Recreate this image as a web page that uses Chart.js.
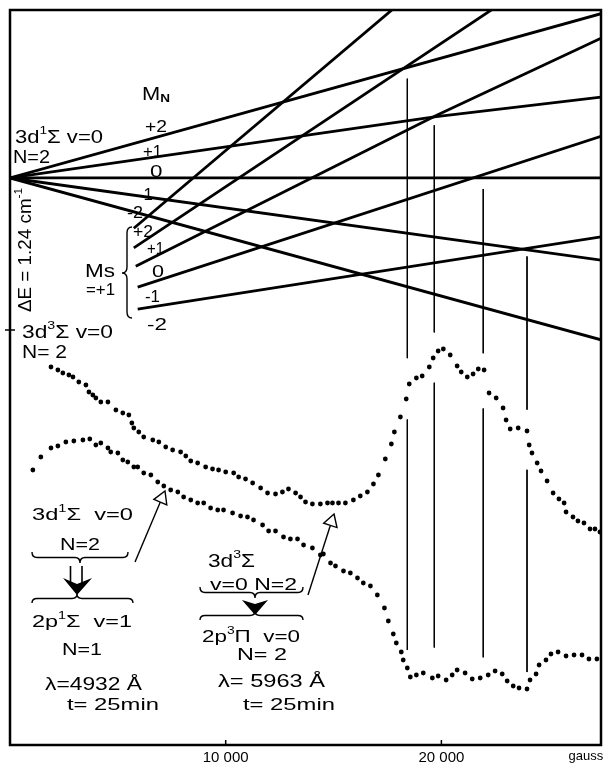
<!DOCTYPE html>
<html><head><meta charset="utf-8">
<script src="https://cdn.jsdelivr.net/npm/chart.js@4.4.0/dist/chart.umd.min.js"></script>
<style>html,body{margin:0;padding:0;background:#fff;overflow:hidden}#wrap{width:610px;height:776px}</style>
</head><body><div id="wrap"><canvas id="c"></canvas></div>
<script>
// ---------- x axis (magnetic field, gauss) ----------
const xTickValues = [10000, 20000, 26700];
const xTickLabels = ['10 000', '20 000', 'gauss'];

// ---------- Zeeman levels: [field (G), energy (cm^-1, 0 = 3d3Σ N=2)] ----------
const singlet_p2 = [[0, 1.24], [27400, 2.58]];
const singlet_p1 = [[0, 1.24], [19760, 1.74], [27400, 1.90]];
const singlet_0  = [[0, 1.24], [27400, 1.24]];
const singlet_m1 = [[0, 1.24], [27400, 0.57]];
const singlet_m2 = [[0, 1.24], [27400, -0.08]];
const triplet_p2 = [[5740, 0.83], [17770, 2.62]];
const triplet_p1 = [[5740, 0.67], [22400, 2.62]];
const triplet_0  = [[5830, 0.52], [19760, 1.75], [27400, 2.38]];
const triplet_m1 = [[5920, 0.35], [27400, 1.58]];
const triplet_m2 = [[5920, 0.17], [27400, 0.76]];

// ---------- anticrossing fields and drawn extents of the vertical markers (cm^-1 scale) ----------
const crossingFields = [18420, 19670, 21940, 23970];
const markerUpper = [[2.05, -0.23], [1.67, -0.02], [1.15, -0.19], [0.60, -0.65]];
const markerLower = [[-0.73, -2.61], [-0.43, -2.59], [-0.64, -2.67], [-1.14, -2.79]];

// ---------- recorded signals (arbitrary intensity units) ----------
const fieldA = [1900,2220,2450,2730,2920,3190,3520,3660,3840,3980,4210,4540,4910,5230,5510,5650,5740,5970,6200,6620,6900,7220,7540,7910,8150,8380,8700,9070,9390,9670,10000,10370,10600,10920,11250,11620,11940,12310,12630,12910,13240,13470,13700,14020,14390,14720,14950,15230,15550,15920,16240,16570,16850,17080,17400,17680,17820,18100,18370,18510,18840,19110,19440,19620,19850,20090,20410,20730,20920,21200,21470,21710,21980,22210,22540,22860,23000,23190,23560,23970,24070,24200,24440,24620,24900,25180,25450,25690,25780,26100,26330,26610,26890,27120,27350];
const signalA = [378,375,372,370,368,363,360,353,350,347,343,343,335,332,330,322,317,313,308,305,303,298,295,293,289,284,282,278,276,275,273,272,268,266,262,257,252,251,253,256,252,248,243,241,241,242,242,242,242,245,249,253,261,270,286,301,313,328,346,361,367,369,378,387,394,396,390,379,373,368,371,376,375,352,347,337,325,316,317,314,300,292,282,274,264,252,246,242,233,228,224,222,216,216,213];
const fieldB = [1060,1430,1900,2220,2590,2960,3380,3700,3980,4210,4540,4670,5000,5230,5460,5740,5920,6200,6530,6850,7130,7450,7780,8050,8380,8700,8980,9300,9630,9900,10320,10690,11010,11290,11710,11990,12310,12680,13000,13330,13610,14020,14390,14530,14860,15090,15460,15780,16110,16380,16710,17030,17360,17540,17770,17910,18140,18230,18420,18560,18840,19160,19580,19850,20220,20500,20730,21100,21430,21800,22170,22490,22820,23050,23330,23600,23970,24110,24390,24530,24850,25080,25410,25780,26150,26520,26840,27210];
const signalB = [275,288,297,299,303,304,305,306,300,302,297,293,292,285,283,278,278,272,270,263,259,255,253,248,245,242,242,237,235,235,232,229,228,225,220,214,214,208,206,206,200,197,190,191,182,179,174,172,167,162,159,150,137,124,111,102,93,85,77,68,70,72,67,69,65,70,75,72,66,67,70,74,71,64,59,57,56,65,71,80,85,91,93,89,90,90,86,86];

const FONT = '"Liberation Sans", "DejaVu Sans", Arial, sans-serif';
const toXY = arr => arr.map(p => ({x: p[0], y: p[1]}));

const levelSets = [singlet_p2, singlet_p1, singlet_0, singlet_m1, singlet_m2,
                   triplet_p2, triplet_p1, triplet_0, triplet_m1, triplet_m2];
const datasets = [];
levelSets.forEach(s => datasets.push({type: 'line', data: toXY(s), yAxisID: 'yE',
  borderColor: '#000', borderWidth: 2.8, pointRadius: 0, tension: 0, fill: false}));
crossingFields.forEach((f, i) => {
  [markerUpper[i], markerLower[i]].forEach(r => datasets.push({type: 'line',
    data: [{x: f, y: r[0]}, {x: f, y: r[1]}], yAxisID: 'yE',
    borderColor: '#000', borderWidth: 1, pointRadius: 0}));
});
[[fieldA, signalA], [fieldB, signalB]].forEach(([f, s]) => datasets.push({type: 'scatter',
  data: f.map((v, i) => ({x: v, y: s[i]})), yAxisID: 'yI',
  backgroundColor: '#000', borderWidth: 0, pointRadius: 2.4, showLine: false}));

// ---------- annotation text ----------
const labels = [
  {s: [['3d','n'],['1','sup'],['Σ v=0','n']], x: 15, y: 143, size: 18, w: 88},
  {s: [['N=2','n']], x: 13, y: 163, size: 18, w: 37},
  {s: [['M','n'],['N','sub']], x: 142, y: 100, size: 19, w: 28},
  {s: [['+2','n']], x: 145, y: 132, size: 16, w: 22},
  {s: [['+1','n']], x: 143, y: 157, size: 16, w: 19},
  {s: [['0','n']], x: 150, y: 177, size: 16, w: 13},
  {s: [['-1','n']], x: 138, y: 200, size: 16, w: 15},
  {s: [['-2','n']], x: 127, y: 218, size: 16, w: 16},
  {s: [['+2','n']], x: 133, y: 237, size: 16, w: 20},
  {s: [['+1','n']], x: 147, y: 254, size: 16, w: 17},
  {s: [['0','n']], x: 152, y: 277, size: 16, w: 12},
  {s: [['-1','n']], x: 145, y: 302, size: 16, w: 15},
  {s: [['-2','n']], x: 147, y: 330, size: 16, w: 20},
  {s: [['Ms','n']], x: 85, y: 277, size: 18, w: 30},
  {s: [['=+1','n']], x: 86, y: 295, size: 17, w: 29},
  {s: [['3d','n'],['3','sup'],['Σ v=0','n']], x: 22, y: 338, size: 18, w: 91},
  {s: [['N= 2','n']], x: 22, y: 358, size: 18, w: 45},
  {s: [['3d','n'],['1','sup'],['Σ  v=0','n']], x: 32, y: 520, size: 17, w: 101},
  {s: [['N=2','n']], x: 60, y: 550, size: 17, w: 40},
  {s: [['2p','n'],['1','sup'],['Σ  v=1','n']], x: 32, y: 627, size: 17, w: 100},
  {s: [['N=1','n']], x: 62, y: 655, size: 17, w: 40},
  {s: [['λ=4932 Å','n']], x: 45, y: 690, size: 18, w: 97},
  {s: [['t= 25min','n']], x: 67, y: 710, size: 17, w: 96},
  {s: [['3d','n'],['3','sup'],['Σ','n']], x: 208, y: 567, size: 18, w: 47},
  {s: [['v=0 N=2','n']], x: 210, y: 590, size: 17, w: 87},
  {s: [['2p','n'],['3','sup'],['Π  v=0','n']], x: 202, y: 642, size: 17, w: 98},
  {s: [['N= 2','n']], x: 237, y: 660, size: 17, w: 50},
  {s: [['λ= 5963 Å','n']], x: 218, y: 687, size: 18, w: 107},
  {s: [['t= 25min','n']], x: 243, y: 710, size: 17, w: 102}
];
const rotatedLabel = {s: [['ΔE = 1.24 cm','n'],['-1','sup']], x: 31, y: 312, size: 18, w: 124};

function drawRich(ctx, segs, x, y, size, w) {
  const parts = segs.map(([t, k]) => {
    const s = k === 'n' ? size : size * 0.62;
    const f = (k === 'sub' ? 'bold ' : '') + s.toFixed(1) + 'px ' + FONT;
    ctx.font = f;
    return {t, k, f, w: ctx.measureText(t).width};
  });
  const nat = parts.reduce((a, p) => a + p.w, 0);
  let sx = w ? w / nat : 1; sx = Math.max(0.7, Math.min(1.4, sx));
  ctx.save(); ctx.translate(x, y); ctx.scale(sx, 1);
  let cx = 0;
  for (const p of parts) {
    ctx.font = p.f;
    const dy = p.k === 'sup' ? -size * 0.5 : (p.k === 'sub' ? size * 0.12 : 0);
    ctx.fillText(p.t, cx, dy);
    cx += p.w;
  }
  ctx.restore();
}
function hBrace(ctx, x0, x1, yArms, yTip, xc) {
  const ym = (yArms + yTip) / 2, r = 5;
  ctx.beginPath();
  ctx.moveTo(x0, yArms); ctx.quadraticCurveTo(x0, ym, x0 + r, ym);
  ctx.lineTo(xc - r, ym); ctx.quadraticCurveTo(xc, ym, xc, yTip);
  ctx.quadraticCurveTo(xc, ym, xc + r, ym); ctx.lineTo(x1 - r, ym);
  ctx.quadraticCurveTo(x1, ym, x1, yArms); ctx.stroke();
}
function vBrace(ctx, xTip, xArms, y0, y1, yc) {
  const xm = (xTip + xArms) / 2, r = 6;
  ctx.beginPath();
  ctx.moveTo(xArms, y0); ctx.quadraticCurveTo(xm, y0, xm, y0 + r);
  ctx.lineTo(xm, yc - r); ctx.quadraticCurveTo(xm, yc, xTip, yc);
  ctx.quadraticCurveTo(xm, yc, xm, yc + r); ctx.lineTo(xm, y1 - r);
  ctx.quadraticCurveTo(xm, y1, xArms, y1); ctx.stroke();
}
function openArrow(ctx, x0, y0, x1, y1) {
  const dx = x1 - x0, dy = y1 - y0, L = Math.hypot(dx, dy), ux = dx / L, uy = dy / L;
  const bx = x1 - ux * 12, by = y1 - uy * 12, px = -uy, py = ux;
  ctx.beginPath(); ctx.moveTo(x0, y0); ctx.lineTo(bx, by); ctx.stroke();
  ctx.beginPath(); ctx.moveTo(x1, y1); ctx.lineTo(bx + px * 7, by + py * 7);
  ctx.lineTo(bx - px * 7, by - py * 7); ctx.closePath();
  ctx.fillStyle = '#fff'; ctx.fill(); ctx.stroke(); ctx.fillStyle = '#000';
}

const decor = {
  id: 'decor',
  afterDraw(chart) {
    const ctx = chart.ctx, a = chart.chartArea, sx = chart.scales.x, sE = chart.scales.yE;
    ctx.save();
    ctx.strokeStyle = '#000'; ctx.fillStyle = '#000';
    ctx.lineWidth = 2.5; ctx.strokeRect(a.left, a.top, a.right - a.left, a.bottom - a.top);
    ctx.lineWidth = 1.5;
    [10000, 20000].forEach(v => { const px = sx.getPixelForValue(v);
      ctx.beginPath(); ctx.moveTo(px, a.bottom); ctx.lineTo(px, a.bottom - 5); ctx.stroke(); });
    const y0 = sE.getPixelForValue(0);
    ctx.beginPath(); ctx.moveTo(a.left - 5, y0); ctx.lineTo(a.left + 5, y0); ctx.stroke();
    ctx.textBaseline = 'alphabetic'; ctx.textAlign = 'left';
    labels.forEach(l => drawRich(ctx, l.s, l.x, l.y, l.size, l.w));
    ctx.save(); ctx.translate(rotatedLabel.x, rotatedLabel.y); ctx.rotate(-Math.PI / 2);
    drawRich(ctx, rotatedLabel.s, 0, 0, rotatedLabel.size, rotatedLabel.w); ctx.restore();
    ctx.lineWidth = 1.4;
    vBrace(ctx, 122, 132, 227, 318, 273);
    hBrace(ctx, 32, 128, 552, 563, 80);
    hBrace(ctx, 32, 133, 603, 594, 77);
    hBrace(ctx, 200, 303, 587, 598, 255);
    hBrace(ctx, 200, 303, 620, 611, 255);
    ctx.lineWidth = 1.6;
    ctx.beginPath(); ctx.moveTo(70.5, 566); ctx.lineTo(70.5, 584); ctx.moveTo(82, 566); ctx.lineTo(82, 584); ctx.stroke();
    ctx.beginPath(); ctx.moveTo(63, 578); ctx.lineTo(77, 584); ctx.lineTo(92, 578); ctx.lineTo(77, 595); ctx.closePath(); ctx.fill();
    ctx.beginPath(); ctx.moveTo(242, 600); ctx.lineTo(255, 604); ctx.lineTo(268, 600); ctx.lineTo(255, 615); ctx.closePath(); ctx.fill();
    ctx.lineWidth = 1.4;
    openArrow(ctx, 135, 562, 165, 491);
    openArrow(ctx, 308, 595, 334, 514);
    ctx.restore();
  }
};

new Chart(document.getElementById('c'), {
  data: {datasets},
  options: {
    responsive: true, maintainAspectRatio: false, animation: false, events: [],
    layout: {padding: {left: 10, top: 10, right: 9, bottom: 10}},
    plugins: {legend: {display: false}, tooltip: {enabled: false}},
    scales: {
      x: {type: 'linear', min: 0, max: 27400, grid: {display: false, drawTicks: false}, border: {display: false},
        afterBuildTicks: s => { s.ticks = xTickValues.map(v => ({value: v})); },
        afterFit: s => { s.height = 21; },
        ticks: {autoSkip: false, maxRotation: 0, padding: 4, color: '#000',
          font: c => ({family: FONT, size: (c.tick && c.tick.value === 26700) ? 13 : 15}),
          callback: v => xTickLabels[xTickValues.indexOf(v)] || ''}},
      yE: {type: 'linear', min: -3.385, max: 2.61, display: false},
      yI: {type: 'linear', min: 0, max: 735, display: false}
    }
  },
  plugins: [decor]
});
</script></body></html>
